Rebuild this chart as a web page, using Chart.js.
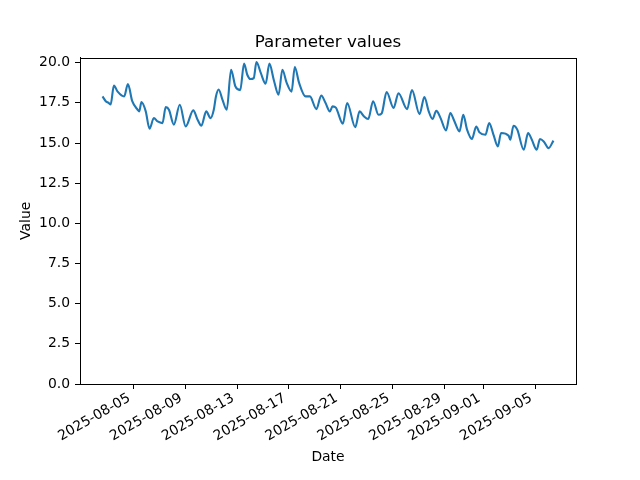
<!DOCTYPE html>
<html>
<head>
<meta charset="utf-8">
<script src="https://cdn.jsdelivr.net/npm/chart.js@4.4.1/dist/chart.umd.min.js"></script>
<style>
  html, body { margin: 0; padding: 0; background: #fff; }
  canvas { display: block; }
</style>
</head>
<body>
<canvas id="paramChart" width="640" height="480"></canvas>
<script>
const times = [
    '2025-08-02T15:00', '2025-08-02T21:00', '2025-08-03T02:00', '2025-08-03T06:00', '2025-08-03T12:00',
    '2025-08-03T19:00', '2025-08-04T07:00', '2025-08-04T14:00', '2025-08-04T22:00', '2025-08-05T08:00',
    '2025-08-05T11:00', '2025-08-05T15:00', '2025-08-05T23:00', '2025-08-06T06:00', '2025-08-06T14:00',
    '2025-08-06T21:00', '2025-08-07T06:00', '2025-08-07T12:00', '2025-08-07T18:00', '2025-08-08T03:00',
    '2025-08-08T14:00', '2025-08-09T01:00', '2025-08-09T15:00', '2025-08-09T23:00', '2025-08-10T06:00',
    '2025-08-10T15:00', '2025-08-10T23:00', '2025-08-11T05:00', '2025-08-11T09:00', '2025-08-11T14:00',
    '2025-08-11T21:00', '2025-08-12T05:00', '2025-08-12T13:00', '2025-08-12T21:00', '2025-08-13T06:00',
    '2025-08-13T13:00', '2025-08-13T19:00', '2025-08-14T01:00', '2025-08-14T07:00', '2025-08-14T12:00',
    '2025-08-14T20:00', '2025-08-15T05:00', '2025-08-15T12:00', '2025-08-15T20:00', '2025-08-16T05:00',
    '2025-08-16T12:00', '2025-08-16T20:00', '2025-08-17T05:00', '2025-08-17T11:00', '2025-08-17T19:00',
    '2025-08-18T07:00', '2025-08-18T15:00', '2025-08-19T03:00', '2025-08-19T12:00', '2025-08-19T20:00',
    '2025-08-20T04:00', '2025-08-20T09:00', '2025-08-20T15:00', '2025-08-21T04:00', '2025-08-21T12:00',
    '2025-08-22T03:00', '2025-08-22T11:00', '2025-08-22T19:00', '2025-08-23T03:00', '2025-08-23T12:00',
    '2025-08-23T22:00', '2025-08-24T04:00', '2025-08-24T13:00', '2025-08-25T02:00', '2025-08-25T11:00',
    '2025-08-26T03:00', '2025-08-26T12:00', '2025-08-27T02:00', '2025-08-27T11:00', '2025-08-27T19:00',
    '2025-08-28T02:00', '2025-08-28T09:00', '2025-08-28T17:00', '2025-08-29T03:00', '2025-08-29T11:00',
    '2025-08-29T18:00', '2025-08-30T04:00', '2025-08-30T11:00', '2025-08-30T18:00', '2025-08-31T03:00',
    '2025-08-31T11:00', '2025-08-31T17:00', '2025-09-01T04:00', '2025-09-01T11:00', '2025-09-01T19:00',
    '2025-09-02T03:00', '2025-09-02T09:00', '2025-09-02T23:00', '2025-09-03T02:00', '2025-09-03T08:00',
    '2025-09-03T15:00', '2025-09-04T03:00', '2025-09-04T11:00', '2025-09-04T18:00', '2025-09-05T03:00',
    '2025-09-05T09:00', '2025-09-05T16:00', '2025-09-06T01:00', '2025-09-06T10:00'
];
const values = [
    17.9, 17.6, 17.5, 17.4, 18.57,
    18.2, 17.9, 18.67, 17.6, 17.07,
    16.97, 17.55, 16.97, 15.89, 16.55,
    16.34, 16.24, 17.23, 17.07, 16.14,
    17.38, 16.03, 17.03, 16.45, 16.07,
    16.97, 16.55, 17.07, 17.9, 18.33,
    17.7, 17.07, 19.56, 18.52, 18.29,
    19.94, 19.25, 18.98, 19.04, 20.04,
    19.36, 18.69, 19.94, 18.94, 18.0,
    19.56, 18.74, 18.2, 19.73, 18.74,
    17.9, 17.9, 17.11, 17.96, 17.49,
    16.97, 17.28, 17.2, 16.2, 17.49,
    15.98, 16.97, 16.66, 16.49, 17.6,
    16.76, 16.85, 18.17, 17.18, 18.1,
    17.11, 18.29, 16.8, 17.86, 16.97,
    16.49, 17.0, 16.55, 15.78, 16.87,
    16.4, 15.72, 16.76, 15.83, 15.25,
    16.03, 15.66, 15.51, 16.24, 15.51,
    14.79, 15.62, 15.45, 15.2, 16.07,
    15.83, 14.58, 15.62, 15.2, 14.58,
    15.25, 15.1, 14.68, 15.15
];
const tickDates = ['2025-08-05', '2025-08-09', '2025-08-13', '2025-08-17', '2025-08-21',
                   '2025-08-25', '2025-08-29', '2025-09-01', '2025-09-05'];
const yTicks = [0, 2.5, 5, 7.5, 10, 12.5, 15, 17.5, 20];

// days since 1 Aug, so the linear axis can stand in for a date axis
const base = Date.parse('2025-08-01T00:00:00Z');
const toDays = s => (Date.parse(s.length > 10 ? s + ':00Z' : s + 'T00:00:00Z') - base) / 864e5;

const points = times.map((t, i) => ({ x: toDays(t), y: values[i] }));
const xs = points.map(p => p.x);
const x0 = Math.min(...xs), x1 = Math.max(...xs);
const xPad = (x1 - x0) * 0.05;
const yMax = Math.max(...values), yMin = Math.min(...values);
const tickDays = tickDates.map(toDays);

// top and right spines like matplotlib
const frame = {
    id: 'frame',
    afterDraw(chart) {
        const a = chart.chartArea, c = chart.ctx;
        c.save();
        c.strokeStyle = '#000';
        c.lineWidth = 1;
        c.strokeRect(Math.round(a.left) + 0.5, Math.round(a.top) + 0.5,
                     Math.round(a.right - a.left), Math.round(a.bottom - a.top));
        c.restore();
    }
};

Chart.defaults.font.family = 'DejaVu Sans';
Chart.defaults.font.size = 13.9;
Chart.defaults.color = '#000';

new Chart(document.getElementById('paramChart').getContext('2d'), {
    type: 'line',
    data: {
        datasets: [{
            data: points,
            borderColor: '#1f77b4',
            borderWidth: 2.1,
            pointRadius: 0,
            fill: false,
            cubicInterpolationMode: 'monotone'
        }]
    },
    options: {
        responsive: false,
        animation: false,
        devicePixelRatio: 1,
        layout: { padding: { left: 0, right: 64, top: 0, bottom: 0 } },
        plugins: {
            legend: { display: false },
            tooltip: { enabled: false },
            title: {
                display: true,
                fullSize: false,
                text: 'Parameter values',
                font: { size: 16.7, weight: 'normal' },
                padding: { top: 33, bottom: 4.6 }
            }
        },
        scales: {
            x: {
                type: 'linear',
                min: x0 - xPad,
                max: x1 + xPad,
                afterBuildTicks: s => { s.ticks = tickDays.map(v => ({ value: v })); },
                afterFit: s => { s.height = 96; },
                ticks: {
                    autoSkip: false,
                    minRotation: 30,
                    maxRotation: 30,
                    padding: 1,
                    labelOffset: -4,
                    callback: (v, i) => tickDates[i]
                },
                grid: { drawOnChartArea: false, tickLength: 5, tickColor: '#000' },
                border: { color: '#000', width: 1 },
                title: { display: true, text: 'Date', padding: { top: 0, bottom: 14.7 } }
            },
            y: {
                min: 0,
                max: yMax + (yMax - yMin) * 0.05,
                afterBuildTicks: s => { s.ticks = yTicks.map(v => ({ value: v })); },
                afterFit: s => { s.width = 80; },
                ticks: { padding: 5, callback: v => v.toFixed(1) },
                grid: { drawOnChartArea: false, tickLength: 5, tickColor: '#000' },
                border: { color: '#000', width: 1 },
                title: { display: true, text: 'Value', padding: { top: 17.7, bottom: 0 } }
            }
        }
    },
    plugins: [frame]
});
</script>
</body>
</html>
